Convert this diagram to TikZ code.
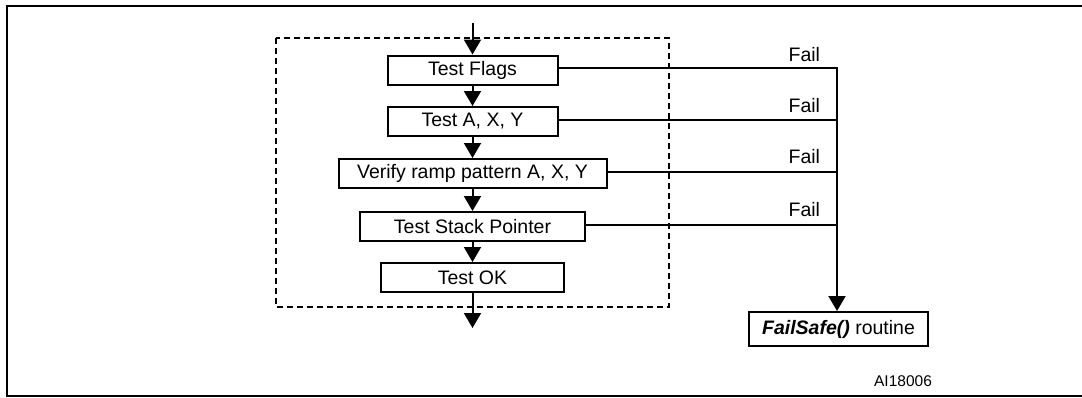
\documentclass[tikz,border=0pt]{standalone}
\usepackage{fontspec}
\setmainfont{Liberation Sans}
\usetikzlibrary{arrows.meta}

\begin{document}
\begin{tikzpicture}[x=1pt,y=-1pt,line width=2pt,
  box/.style={draw,inner sep=0pt,minimum height=29pt,font=\fontsize{19.5}{22}\selectfont},
  lbl/.style={anchor=base east,inner sep=0pt,font=\fontsize{19.5}{22}\selectfont},
  arr/.style={-{Triangle[length=15pt,width=17pt]}}]
\useasboundingbox (0,0) rectangle (1082,397);
\draw[line width=2.5pt] (1082,6) -- (7,6) -- (7,396) -- (1082,396);
\draw[dash pattern=on 6pt off 4pt] (276,38) rectangle (669,307);
\node[box,minimum width=170pt] (flags) at (472.5,70) {Test Flags};
\node[box,minimum width=170pt] (regs) at (472.5,121.5) {Test A, X, Y};
\node[box,minimum width=268pt] (ramp) at (472.5,173.5) {Verify ramp pattern A, X, Y};
\node[box,minimum width=225pt] (sp) at (472.5,226.5) {Test Stack Pointer};
\node[box,minimum width=183pt] (ok) at (472.5,277.5) {Test OK};
\node[box,minimum width=179pt,minimum height=34pt] (fs) at (838.5,329) {\textbf{\textit{FailSafe()}} routine};
\coordinate (in) at (472.5,23);
\coordinate (out) at (472.5,328);
\coordinate (bus) at (837,68);
\draw[arr] (in) -- (flags.north);
\draw[arr] (flags) -- (regs);
\draw[arr] (regs) -- (ramp);
\draw[arr] (ramp) -- (sp);
\draw[arr] (sp) -- (ok);
\draw[arr] (ok) -- (out);
\draw ([yshift=2pt]flags.east) -- ([yshift=2pt]flags.east -| bus);
\draw ([yshift=1.5pt]regs.east) -- ([yshift=1.5pt]regs.east -| bus);
\draw ([yshift=2pt]ramp.east) -- ([yshift=2pt]ramp.east -| bus);
\draw ([yshift=1.5pt]sp.east) -- ([yshift=1.5pt]sp.east -| bus);
\draw[arr] ([yshift=1pt]bus) -- (bus |- fs.north);
\node[lbl] (f1) at (821,61) {Fail};
\node[lbl] (f2) at (821,112) {Fail};
\node[lbl] (f3) at (821,163) {Fail};
\node[lbl] (f4) at (821,216) {Fail};
\node[inner sep=0pt,font=\fontsize{15.5}{18}\selectfont] (id) at (903,381) {AI18006};
\end{tikzpicture}
\end{document}
